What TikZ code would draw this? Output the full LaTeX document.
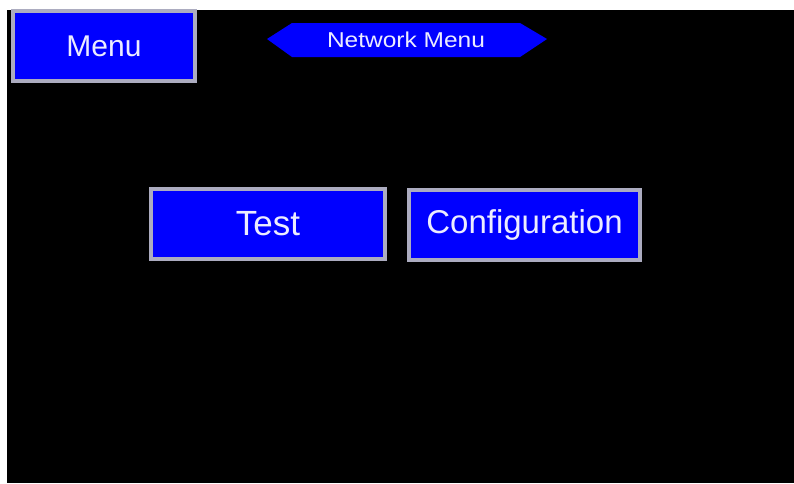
\documentclass[tikz,border=0pt]{standalone}
\usepackage{fontspec}
\setmainfont{Liberation Sans}
\definecolor{btnblue}{RGB}{0,0,255}
\definecolor{btnedge}{RGB}{172,172,192}
\definecolor{btntext}{RGB}{236,236,255}
\begin{document}
\begin{tikzpicture}[x=1pt,y=-1pt,
  button/.style={draw=btnedge,line width=4pt,fill=btnblue,text=btntext,inner sep=0pt,anchor=center},
  title/.style={text=btntext,inner sep=0pt,anchor=center}]
\useasboundingbox (0,0) rectangle (794,483);
\fill[white] (0,0) rectangle (794,483);
\fill[black] (7,10) rectangle (794,483);
% Menu button
\node[button,minimum width=182pt,minimum height=70pt] (menu) at (104,46)
  {\fontsize{30}{34}\selectfont Menu};
% Network Menu banner
\fill[btnblue] (267,39) -- (292,23) -- (520,23) -- (547,39) -- (520,57) -- (292,57) -- cycle;
\node[title] (netmenu) at (406,40) {\scalebox{1.14}[1]{\fontsize{21.5}{25}\selectfont Network Menu}};
% Test and Configuration buttons
\node[button,minimum width=234pt,minimum height=70pt] (test) at (268,224)
  {\fontsize{35}{40}\selectfont Test};
\node[button,minimum width=231pt,minimum height=70pt] (config) at (524.5,225)
  {\fontsize{33}{40}\selectfont Configuration};
\end{tikzpicture}
\end{document}
